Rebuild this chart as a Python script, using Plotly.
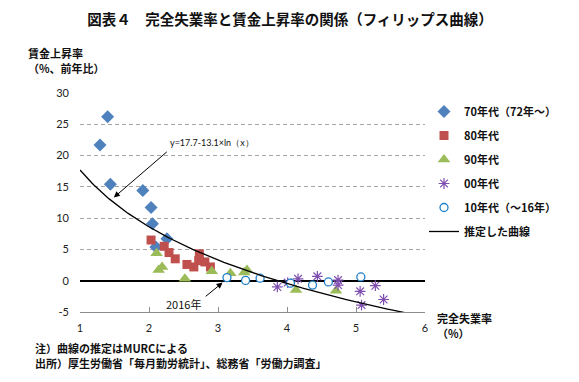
import numpy as np
import plotly.graph_objects as go

# ---- data ----
u70 = [1.29, 1.40, 1.44, 1.91, 2.03, 2.05, 2.26, 2.10]
w70 = [21.7, 26.2, 15.4, 14.4, 11.7, 9.1, 6.7, 5.4]

u80 = [2.03, 2.22, 2.29, 2.38, 2.72, 2.65, 2.81, 2.89, 2.55, 2.73]
w80 = [6.5, 5.5, 4.5, 3.5, 3.2, 2.2, 3.0, 2.2, 2.6, 4.3]

u90 = [2.11, 2.14, 2.19, 2.52, 2.91, 3.18, 3.38, 3.42, 4.13, 4.71]
w90 = [4.4, 1.7, 2.2, 0.3, 1.5, 1.2, 1.3, 1.7, -1.5, -1.6]

u00 = [4.74, 5.06, 5.40, 5.28, 4.74, 4.44, 4.16, 3.86, 4.01, 5.08]
w00 = [0.1, -1.7, -3.0, -0.8, -0.7, 0.7, 0.3, -1.0, -0.3, -3.9]

u10 = [5.07, 4.60, 4.37, 4.05, 3.61, 3.40, 3.13]
w10 = [0.6, -0.2, -0.7, -0.4, 0.4, 0.05, 0.5]

# estimated curve stated on the chart: y = 17.7 - 13.1 * ln(x)
curve_a = 17.7
curve_b = 13.1
curve_x = np.linspace(1.0, 6.0, 200)
curve_y = curve_a - curve_b * np.log(curve_x)

series_names = ["70年代（72年～）", "80年代", "90年代", "00年代", "10年代（～16年）", "推定した曲線"]
x_ticks = [1, 2, 3, 4, 5, 6]
y_ticks = [-5, 0, 5, 10, 15, 20, 25, 30]

JP = "Noto Sans CJK JP"
NUM = "Lato"

# page body margin offset (browser default 8px)
OFF = 8
PL, PR, PT, PB = 80, 425, 93, 312   # plot area in window pixels
W, H = 579, 382
PW, PH = PR - PL, PB - PT


def px(X):
    return (X - PL) / PW


def py(Y):
    return (PB - Y) / PH


fig = go.Figure()
fig.add_trace(go.Scatter(x=u70, y=w70, mode="markers", name=series_names[0], legendgroup="a",
                         marker=dict(symbol="diamond", size=10, color="#4F81BD")))
fig.add_trace(go.Scatter(x=u80, y=w80, mode="markers", name=series_names[1], legendgroup="b",
                         marker=dict(symbol="square", size=9, color="#C0504D")))
fig.add_trace(go.Scatter(x=u90, y=w90, mode="markers", name=series_names[2], legendgroup="c",
                         marker=dict(symbol="triangle-up", size=11, color="#9BBB59")))
fig.add_trace(go.Scatter(x=u00, y=w00, mode="markers", name=series_names[3], legendgroup="d",
                         marker=dict(symbol="asterisk-open", size=9, color="#7F4FB0",
                                     line=dict(color="#7F4FB0", width=1.2))))
fig.add_trace(go.Scatter(x=u10, y=w10, mode="markers", name=series_names[4], legendgroup="e",
                         marker=dict(symbol="circle", size=8, color="white",
                                     line=dict(color="#1F7FC8", width=1.3))))
fig.add_trace(go.Scatter(x=curve_x, y=curve_y, mode="lines", name=series_names[5], legendgroup="f",
                         line=dict(color="black", width=1.3)))

fig.update_layout(
    width=W, height=H,
    margin=dict(l=PL - OFF, r=W - (PR - OFF), t=PT - OFF, b=H - (PB - OFF), autoexpand=False),
    paper_bgcolor="white", plot_bgcolor="white",
    showlegend=True,
    legend=dict(x=px(424), y=py(97), xanchor="left", yanchor="top",
                font=dict(family=JP, size=11, color="#111111", weight="bold"),
                traceorder="grouped", tracegroupgap=5, bgcolor="rgba(0,0,0,0)"),
    title=dict(text="図表４　完全失業率と賃金上昇率の関係（フィリップス曲線）",
               x=(290 - OFF) / W, xref="container", xanchor="center",
               y=1 - (20 - OFF) / H, yref="container", yanchor="middle",
               font=dict(family=JP, size=14.5, color="#111111", weight="bold")),
)

fig.update_xaxes(range=[1, 6], tickvals=x_ticks, ticktext=[str(v) for v in x_ticks],
                 showgrid=False, zeroline=False, showline=True, linecolor="#8C8C8C", linewidth=1,
                 ticks="inside", ticklen=5, tickcolor="#8C8C8C",
                 tickfont=dict(family=NUM, size=11, color="#222222"), ticklabelstandoff=6)
fig.update_yaxes(range=[-5, 30], tickvals=y_ticks, ticktext=[str(v) for v in y_ticks],
                 showgrid=True, gridcolor="#A6A6A6", griddash="4px,3px", gridwidth=1,
                 zeroline=True, zerolinecolor="black", zerolinewidth=1.5,
                 showline=False, ticks="",
                 tickfont=dict(family=NUM, size=11, color="#222222"), ticklabelstandoff=10)

# curve formula label with arrow
fig.add_annotation(x=1.49, y=13.3, ax=2.28, ay=20.8, axref="x", ayref="y", xref="x", yref="y",
                   text="", showarrow=True, arrowhead=2, arrowsize=1.2, arrowwidth=1, arrowcolor="black")
fig.add_annotation(x=2.27, y=22.1, xref="x", yref="y", xanchor="left", yanchor="middle",
                   text="y=17.7-13.1×ln（x）", showarrow=False,
                   font=dict(family=NUM, size=9, color="#111111"))
# 2016 label with arrow
fig.add_annotation(x=3.10, y=0.0, ax=2.80, ay=-2.7, axref="x", ayref="y", xref="x", yref="y",
                   text="", showarrow=True, arrowhead=2, arrowsize=1.2, arrowwidth=1, arrowcolor="black",
                   standoff=3)
fig.add_annotation(x=2.50, y=-3.8, xref="x", yref="y", xanchor="center", yanchor="middle",
                   text="2016年", showarrow=False,
                   font=dict(family=JP, size=11, color="#111111"))

bold11 = dict(family=JP, size=11, color="#111111", weight="bold")


def label(X, Y, txt):
    fig.add_annotation(x=px(X), y=py(Y), xref="paper", yref="paper",
                       xanchor="left", yanchor="middle", align="left", showarrow=False,
                       text=txt, font=bold11, borderpad=0)


# axis titles
label(27, 53, "賃金上昇率")
label(27, 68, "（%、前年比）")
label(436, 318, "完全失業率")
label(436, 333, "（%）")
# footnotes
label(34, 348, "注）曲線の推定はMURCによる")
label(34, 363, "出所）厚生労働省「毎月勤労統計」、総務省「労働力調査」")

fig.write_html("out.html")
